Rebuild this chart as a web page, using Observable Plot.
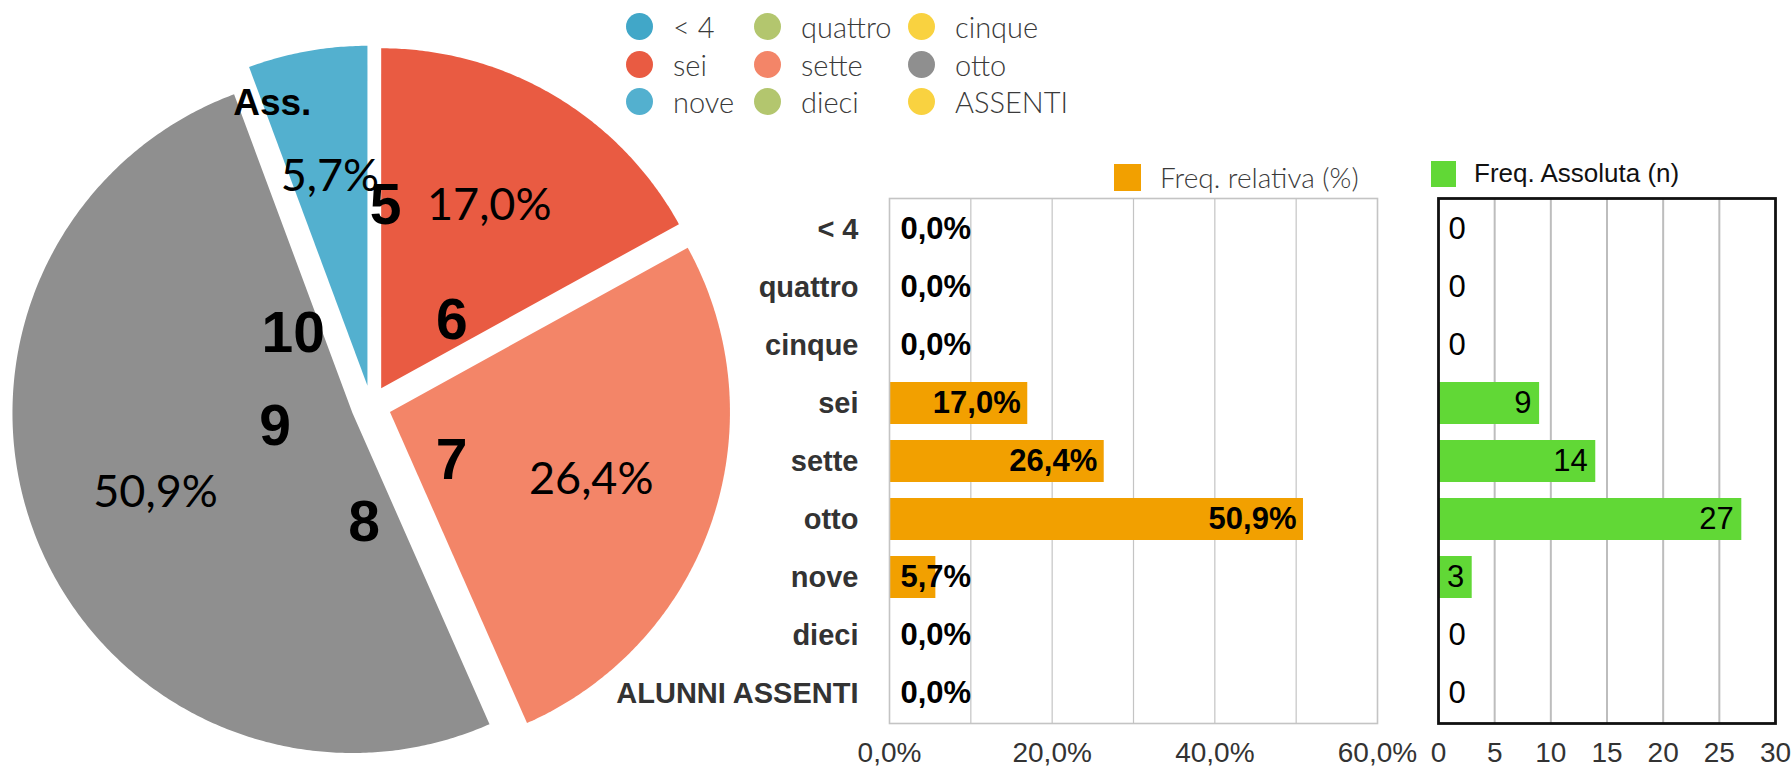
<!DOCTYPE html>
<html>
<head>
<meta charset="utf-8">
<script src="https://cdn.jsdelivr.net/npm/d3@7"></script>
<script src="https://cdn.jsdelivr.net/npm/@observablehq/plot@0.6"></script>
<style>
  html, body { margin: 0; padding: 0; background: #fff; width: 1792px; height: 767px; overflow: hidden; }
  .abs { position: absolute; }
  #legend { position: absolute; left: 626px; top: 8px; display: grid;
            grid-template-columns: 128px 154px auto; grid-auto-rows: 37.5px; }
  #legend .item { display: flex; align-items: center; font-family: Lato, "Open Sans", sans-serif;
                  font-weight: 300; font-size: 29px; color: #3a3a3a; white-space: nowrap; }
  #legend .dot { width: 27px; height: 27px; border-radius: 50%; margin-right: 20px; flex: none; }
  .blegend { position: absolute; display: flex; align-items: center; white-space: nowrap; }
  .blegend .sq { flex: none; }
</style>
</head>
<body>
<div id="pie" class="abs" style="left:0;top:0"></div>
<div id="rel" class="abs" style="left:600px;top:150px"></div>
<div id="abs" class="abs" style="left:1390px;top:150px"></div>
<div id="legend"></div>
<div class="blegend" style="left:1114px;top:160px;font-family:Lato,sans-serif;font-weight:300;font-size:28px;color:#3a3a3a">
  <div class="sq" style="width:27px;height:27px;background:#F2A000;margin-right:19px"></div><span>Freq. relativa (%)</span>
</div>
<div class="blegend" style="left:1431px;top:158px;font-family:'Liberation Sans',Arial,sans-serif;font-size:26px;color:#111">
  <div class="sq" style="width:25px;height:26px;background:#61D836;margin-right:18px"></div><span>Freq. Assoluta (n)</span>
</div>
<script>
// ---------------- data ----------------
const categories = ["< 4", "quattro", "cinque", "sei", "sette", "otto", "nove", "dieci", "ALUNNI ASSENTI"];
const legendNames = ["< 4", "quattro", "cinque", "sei", "sette", "otto", "nove", "dieci", "ASSENTI"];
const pieNames = ["", "", "5", "6", "7", "8", "9", "10", "Ass."];
const freqRel = [0, 0, 0, 17.0, 26.4, 50.9, 5.7, 0, 0];   // %
const freqAbs = [0, 0, 0, 9, 14, 27, 3, 0, 0];            // n
const relTicks = [0, 20, 40, 60];
const absTicks = [0, 5, 10, 15, 20, 25, 30];

// ---------------- styles / layout ----------------
const sliceColors = ["#41A7C8", "#B3C66E", "#F9D240", "#E95B42", "#F38568", "#8F8F8F", "#53B0CF", "#B3C66E", "#F9D240"];
// placement of the category names inside the pie: angle (deg, clockwise from 12 o'clock), distance (fraction of radius), font size
const pieNameLayout = [null, null,
  {a: 4.2, r: 0.588, s: 57}, {a: 43.5, r: 0.345, s: 57}, {a: 124.5, r: 0.288, s: 57},
  {a: 183.4, r: 0.345, s: 57}, {a: 257.3, r: 0.289, s: 57}, {a: 312.6, r: 0.311, s: 57},
  {a: 341.9, r: 0.935, s: 37}];
const explode = 20 / 340;
const pctLabelRadius = 0.625;
const fmtPct = v => v.toFixed(1).replace(".", ",") + "%";
const helv = "'Liberation Sans', Arial, Helvetica, sans-serif";

// ---------------- legend ----------------
const leg = document.getElementById("legend");
legendNames.forEach((n, i) => {
  const it = document.createElement("div");
  it.className = "item";
  it.innerHTML = `<div class="dot" style="background:${sliceColors[i]}"></div><span>${n}</span>`;
  leg.appendChild(it);
});

// ---------------- pie ----------------
const arcs = d3.pie().sort(null).value(d => d)(freqAbs);
const slices = arcs.map((a, i) => {
  const mid = (a.startAngle + a.endAngle) / 2;
  const ox = explode * Math.sin(mid), oy = -explode * Math.cos(mid);
  const pts = [{x: ox, y: oy}];
  const n = Math.max(2, Math.ceil((a.endAngle - a.startAngle) / (Math.PI / 360)));
  for (let k = 0; k <= n; k++) {
    const t = a.startAngle + (a.endAngle - a.startAngle) * k / n;
    pts.push({x: ox + Math.sin(t), y: oy - Math.cos(t)});
  }
  pts.push({x: ox, y: oy});
  return {i, value: a.value, mid, ox, oy, pts, color: sliceColors[i], pct: freqRel[i]};
});
const visible = slices.filter(s => s.value > 0);
const nameLabels = pieNames.map((t, i) => ({t, L: pieNameLayout[i]})).filter(d => d.t && d.L);

const pie = Plot.plot({
  width: 760, height: 767, margin: 0,
  style: {background: "transparent", overflow: "visible"},
  x: {domain: [-1, 1], range: [30.5, 710.5], axis: null},
  y: {domain: [-1, 1], range: [65, 745], axis: null},
  marks: [
    ...visible.map(s => Plot.line(s.pts, {x: "x", y: "y", fill: s.color, stroke: "none", curve: "linear"})),
    Plot.text(visible, {
      x: s => s.ox + pctLabelRadius * Math.sin(s.mid),
      y: s => s.oy - pctLabelRadius * Math.cos(s.mid),
      text: s => fmtPct(s.pct), fontSize: 45, fontFamily: "Lato, sans-serif", fontWeight: 400, fill: "#000"
    }),
    ...[57, 37].map(sz => Plot.text(nameLabels.filter(d => d.L.s === sz), {
      x: d => d.L.r * Math.sin(d.L.a * Math.PI / 180),
      y: d => -d.L.r * Math.cos(d.L.a * Math.PI / 180),
      text: "t", fontSize: sz, fontWeight: "bold", fontFamily: helv, fill: "#000"
    }))
  ]
});
document.getElementById("pie").appendChild(pie);

// ---------------- relative frequency bars ----------------
const rows = categories.map((c, i) => ({cat: c, rel: freqRel[i], abs: freqAbs[i]}));

const rel = Plot.plot({
  width: 790, height: 617, marginLeft: 289, marginRight: 13, marginTop: 48, marginBottom: 44,
  style: {background: "transparent", color: "#333", fontFamily: helv, overflow: "visible"},
  x: {domain: [0, 60], label: null},
  y: {domain: categories, paddingInner: 0.28, paddingOuter: 0.14, axis: null},
  marks: [
    Plot.gridX([10, 20, 30, 40, 50], {stroke: "#c4c4c4", strokeOpacity: 1, strokeWidth: 1.2}),
    Plot.barX(rows, {x: "rel", y: "cat", fill: "#F2A000"}),
    Plot.frame({stroke: "#c4c4c4", strokeWidth: 1.6}),
    Plot.axisX(relTicks, {tickSize: 0, tickPadding: 19, tickFormat: fmtPct, fontSize: 28, label: null, fontFamily: helv}),
    Plot.text(rows, {y: "cat", text: "cat", frameAnchor: "left", dx: -31, textAnchor: "end",
                     fontSize: 29, fontWeight: "bold", fill: "#333", fontFamily: helv}),
    Plot.text(rows.filter(d => d.rel >= 10), {x: "rel", y: "cat", text: d => fmtPct(d.rel), dx: -7, textAnchor: "end",
                     fontSize: 31, fontWeight: "bold", fill: "#000", fontFamily: helv}),
    Plot.text(rows.filter(d => d.rel < 10), {y: "cat", text: d => fmtPct(d.rel), frameAnchor: "left", dx: 11, textAnchor: "start",
                     fontSize: 31, fontWeight: "bold", fill: "#000", fontFamily: helv})
  ]
});
document.getElementById("rel").appendChild(rel);

// ---------------- absolute frequency bars ----------------
const ab = Plot.plot({
  width: 402, height: 617, marginLeft: 48, marginRight: 17, marginTop: 48, marginBottom: 44,
  style: {background: "transparent", color: "#333", fontFamily: helv, overflow: "visible"},
  x: {domain: [0, 30], label: null},
  y: {domain: categories, paddingInner: 0.28, paddingOuter: 0.14, axis: null},
  marks: [
    Plot.gridX([5, 10, 15, 20, 25], {stroke: "#bdbdbd", strokeOpacity: 1, strokeWidth: 2}),
    Plot.barX(rows, {x: "abs", y: "cat", fill: "#61D836"}),
    Plot.frame({stroke: "#111", strokeWidth: 2.8}),
    Plot.axisX(absTicks, {tickSize: 0, tickPadding: 19, tickFormat: d => String(d), fontSize: 28, label: null, fontFamily: helv}),
    Plot.text(rows.filter(d => d.abs > 0), {x: "abs", y: "cat", text: d => String(d.abs), dx: -8, textAnchor: "end",
                     fontSize: 31, fill: "#000", fontFamily: helv}),
    Plot.text(rows.filter(d => d.abs === 0), {y: "cat", text: d => String(d.abs), frameAnchor: "left", dx: 10, textAnchor: "start",
                     fontSize: 31, fill: "#000", fontFamily: helv})
  ]
});
document.getElementById("abs").appendChild(ab);
</script>
</body>
</html>
